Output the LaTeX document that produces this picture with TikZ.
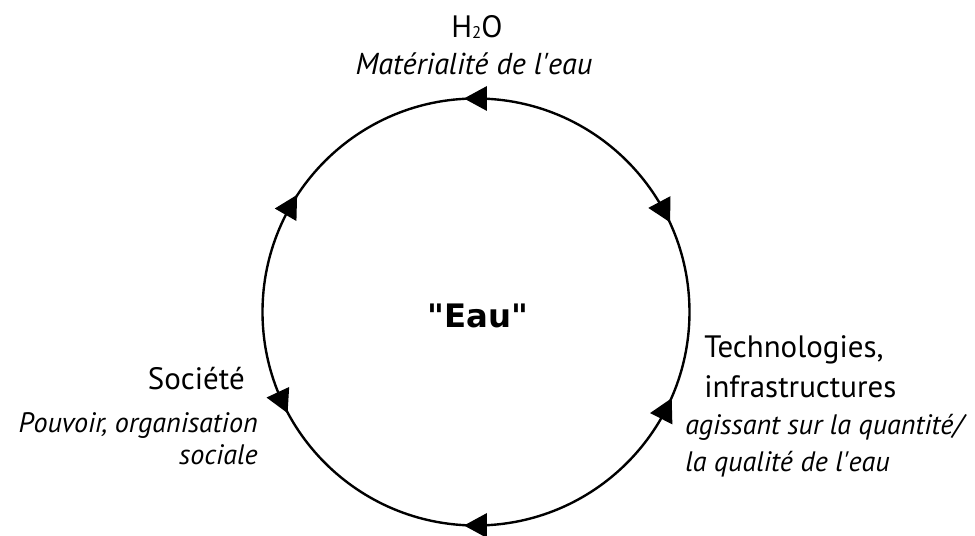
\documentclass[tikz,border=0pt]{standalone}
\usepackage{fontspec}
\setmainfont{PT Sans}
\newfontfamily\eaufont{DejaVu Sans}
\usetikzlibrary{positioning}
\newcommand\flowtip[2]{\fill[shift={(#1:213.5)},rotate=#2] (12,0) -- (-11,12.5) -- (-11,-12.5) -- cycle;}

\begin{document}
\begin{tikzpicture}[x=0.025cm,y=0.025cm,
    pole/.style={inner sep=0pt,font=\fontsize{22}{29}\selectfont},
    gloss/.style={inner sep=0pt,font=\fontsize{20}{27}\selectfont\itshape}]
    \useasboundingbox (-476,-224) rectangle (499,312);
    \draw[line width=1.7pt] (0,0) circle (213.5);
    \flowtip{90}{180}
    \flowtip{28}{-62}
    \flowtip{-27}{63}
    \flowtip{270}{180}
    \flowtip{205}{295}
    \flowtip{150}{60}
    \node(eau)[inner sep=0pt,anchor=base,font=\eaufont\bfseries\fontsize{23}{28}\selectfont] at (2,-16) {"Eau"};
    \node(h2o)[pole,anchor=base] at (1,274) {H\raisebox{-0.5pt}{\fontsize{12}{12}\selectfont 2}O};
    \node(matiere)[gloss,anchor=base,font=\fontsize{21.5}{27}\selectfont\itshape] at (-2,237) {Matérialité de l\textquotesingle eau};
    \node(techno)[pole,anchor=base west,align=left] at (228,-86) {Technologies,\\infrastructures};
    \node(effet)[gloss,anchor=base west,align=left] at (209,-160) {agissant sur la quantité/\\la qualité de l\textquotesingle eau};
    \node(societe)[pole,anchor=base east] at (-231,-78) {Société};
    \node(pouvoir)[gloss,anchor=base east,align=right,font=\fontsize{20}{23}\selectfont\itshape] at (-218,-153) {Pouvoir, organisation\\sociale};
\end{tikzpicture}
\end{document}
